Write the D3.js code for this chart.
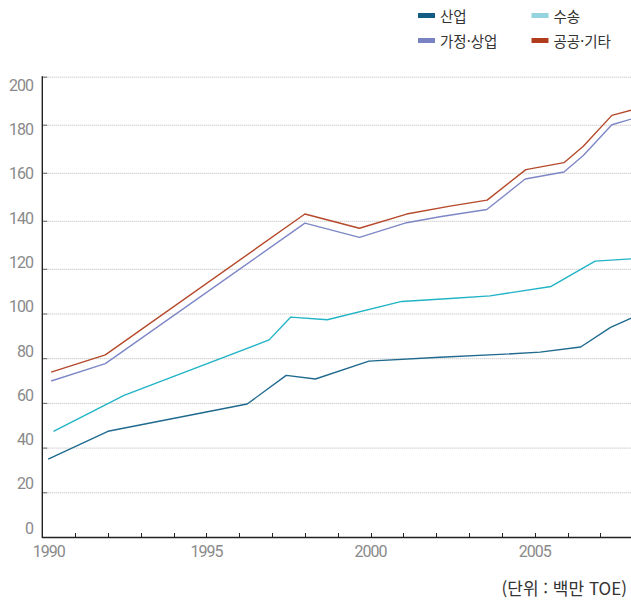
<!DOCTYPE html>
<html lang="ko">
<head>
<meta charset="utf-8">
<script src="https://cdn.jsdelivr.net/npm/d3@7/dist/d3.min.js"></script>
<style>
  html, body { margin: 0; padding: 0; background: #fff; }
  svg { display: block; }
  .tick-label { font-family: Roboto, "Noto Sans", sans-serif; font-size: 16px; fill: #8a8a8a; letter-spacing: -1px; }
  .legend-text, .unit { font-family: "Noto Sans CJK KR", "Noto Sans", sans-serif; font-size: 14.5px; fill: #333; }
</style>
</head>
<body>
<svg id="chart" width="631" height="600"></svg>
<script>
// Energy consumption by sector (unit: million TOE)
const seriesNames = ["산업", "수송", "가정·상업", "공공·기타"];
const lineColors  = ["#1f6a8e", "#22b4c6", "#7d87c6", "#b5492a"];
const swatchColors = ["#135c84", "#93d4de", "#7983c4", "#b03c1d"];

const industryYears = [1990.18, 1992.0, 1996.24, 1997.43, 1998.32, 1999.95, 2002.11, 2003.94, 2005.16, 2006.4, 2007.31, 2008];
const industryValues = [34.8, 47.3, 59.5, 72.3, 70.7, 78.7, 80.4, 81.7, 82.7, 85.0, 93.8, 98.3];

const transportYears = [1990.34, 1992.49, 1996.91, 1997.57, 1998.68, 2000.95, 2002.42, 2003.64, 2005.5, 2006.84, 2008];
const transportValues = [47.3, 63.4, 88.2, 98.4, 97.2, 105.4, 106.7, 107.9, 112.1, 123.2, 124.2];

const householdYears = [1990.27, 1991.92, 1998.0, 1999.66, 2001.1, 2002.11, 2003.54, 2004.71, 2005.89, 2006.48, 2007.35, 2008];
const householdValues = [69.8, 77.6, 139.0, 133.1, 139.2, 141.7, 144.7, 157.4, 160.3, 167.2, 180.0, 182.6];

const publicYears = [1990.27, 1991.92, 1998.0, 1999.66, 2001.1, 2002.42, 2003.55, 2004.73, 2005.89, 2006.48, 2007.35, 2008];
const publicValues = [73.8, 81.5, 142.8, 136.9, 142.8, 146.1, 148.6, 161.3, 164.2, 171.0, 183.9, 186.3];

const yTicks = [0, 20, 40, 60, 80, 100, 120, 140, 160, 180, 200];
const xTickYears = d3.range(1990, 2008);
const xLabelYears = [1990, 1995, 2000, 2005];

const series = [
  { name: seriesNames[0], years: industryYears, values: industryValues, color: lineColors[0] },
  { name: seriesNames[1], years: transportYears, values: transportValues, color: lineColors[1] },
  { name: seriesNames[2], years: householdYears, values: householdValues, color: lineColors[2] },
  { name: seriesNames[3], years: publicYears, values: publicValues, color: lineColors[3] }
];

const svg = d3.select("#chart");
const W = 631;

// Scales: gridlines are spaced a little wider above 120
const x = d3.scaleLinear().domain([1990, 2008]).range([42.3, 633.2]);
const y = d3.scaleLinear().domain([0, 120, 200]).range([537, 268.8, 76.7]);
const yLabel = d3.scaleLinear().domain([0, 200]).range([528, 85]);

// Gridlines
svg.append("g").selectAll("line")
  .data(yTicks.filter(d => d > 0))
  .join("line")
  .attr("x1", x(1990)).attr("x2", W)
  .attr("y1", d => y(d) + 0.5).attr("y2", d => y(d) + 0.5)
  .attr("stroke", "#b8b8b8").attr("stroke-width", 1)
  .attr("stroke-dasharray", "1,1");

// Short tick marks on the inner side of the y axis
svg.append("g").selectAll("line")
  .data(yTicks.filter(d => d > 0))
  .join("line")
  .attr("x1", x(1990)).attr("x2", x(1990) + 5)
  .attr("y1", d => y(d) + 0.5).attr("y2", d => y(d) + 0.5)
  .attr("stroke", "#666").attr("stroke-width", 1);

// Y tick labels
svg.append("g").selectAll("text")
  .data(yTicks)
  .join("text")
  .attr("class", "tick-label")
  .attr("x", 33).attr("y", d => yLabel(d))
  .attr("dy", "0.36em")
  .attr("text-anchor", "end")
  .text(d => d);

// Axes lines
svg.append("line")
  .attr("x1", x(1990)).attr("x2", x(1990))
  .attr("y1", y(200) - 0.5).attr("y2", y(0) + 1)
  .attr("stroke", "#222").attr("stroke-width", 1.4);
svg.append("line")
  .attr("x1", x(1990)).attr("x2", W)
  .attr("y1", y(0) + 0.5).attr("y2", y(0) + 0.5)
  .attr("stroke", "#222").attr("stroke-width", 1.4);

// X ticks pointing up
svg.append("g").selectAll("line")
  .data(xTickYears.filter(d => d > 1990))
  .join("line")
  .attr("x1", d => Math.round(x(d)) + 0.5).attr("x2", d => Math.round(x(d)) + 0.5)
  .attr("y1", y(0)).attr("y2", y(0) - 4)
  .attr("stroke", "#222").attr("stroke-width", 1);

// X labels
svg.append("g").selectAll("text")
  .data(xLabelYears)
  .join("text")
  .attr("class", "tick-label")
  .attr("x", d => x(d) + (d === 1990 ? 6.5 : 0))
  .attr("y", 557)
  .attr("text-anchor", "middle")
  .text(d => d);

// Lines
const line = d3.line()
  .x(d => x(d[0]))
  .y(d => y(d[1]));

svg.append("g").selectAll("path")
  .data(series)
  .join("path")
  .attr("fill", "none")
  .attr("stroke", d => d.color)
  .attr("stroke-width", 1.4)
  .attr("stroke-linejoin", "round")
  .attr("d", d => line(d.years.map((yr, i) => [yr, d.values[i]])));

// Legend
const legendPos = [
  { sx: 418, ty: 0 }, { sx: 531.5, ty: 0 },
  { sx: 418, ty: 1 }, { sx: 531.5, ty: 1 }
];
const legend = svg.append("g").selectAll("g")
  .data(seriesNames)
  .join("g")
  .attr("transform", (d, i) => `translate(${legendPos[i].sx},${legendPos[i].ty * 25})`);
legend.append("rect")
  .attr("x", 0).attr("y", 13)
  .attr("width", 17).attr("height", 5)
  .attr("fill", (d, i) => swatchColors[i]);
legend.append("text")
  .attr("class", "legend-text")
  .attr("x", 22).attr("y", 21.5)
  .text(d => d);

// Unit note
svg.append("text")
  .attr("class", "unit")
  .attr("x", 627).attr("y", 595)
  .attr("text-anchor", "end")
  .style("font-size", "17px")
  .text("(단위 : 백만 TOE)");
</script>
</body>
</html>
